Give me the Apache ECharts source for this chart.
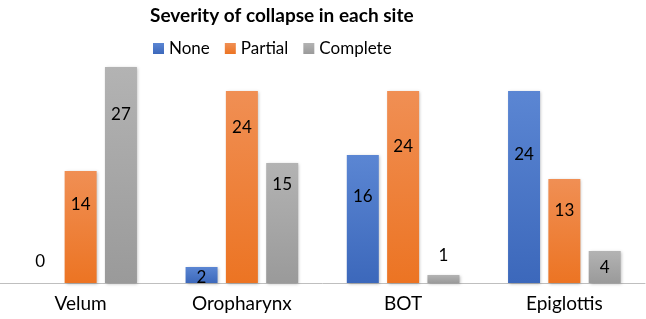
<!DOCTYPE html>
<html><head><meta charset="utf-8">
<script src="https://cdn.jsdelivr.net/npm/echarts@6/dist/echarts.min.js"></script>
<style>html,body{margin:0;padding:0;background:#fff}#c{width:646px;height:319px}</style>
</head><body><div id="c"></div>
<script>
const categories = ['Velum', 'Oropharynx', 'BOT', 'Epiglottis'];
const noneVals = [0, 2, 16, 24];
const partialVals = [14, 24, 24, 13];
const completeVals = [27, 15, 1, 4];
const seriesNames = ['None', 'Partial', 'Complete'];

// label vertical offsets (px) relative to bar centre, as placed in the reference
const noneLabelDy = [-21, 3, -22, -32];
const partialLabelDy = [-22, -59, -40, -20];
const completeLabelDy = [-60, -38, -23, 1];

const FONT = 'Lato, "Open Sans", sans-serif';
function grad(top, bottom) {
  return new echarts.graphic.LinearGradient(0, 0, 0, 1, [
    {offset: 0, color: top}, {offset: 1, color: bottom}
  ]);
}
function mk(name, vals, dys, top, bottom) {
  return {
    name: name, type: 'bar', barWidth: 32, barGap: '26%',
    itemStyle: {color: grad(top, bottom), shadowColor: 'rgba(0,0,0,0.25)', shadowBlur: 3, shadowOffsetX: 1, shadowOffsetY: 1},
    data: vals.map((v, i) => ({
      value: v,
      label: {position: 'inside', offset: [0, dys[i]]}
    })),
    label: {show: true, color: '#000', fontFamily: FONT, fontSize: 17}
  };
}
const chart = echarts.init(document.getElementById('c'));
chart.setOption({
  animation: false,
  title: {text: 'Severity of collapse in each site', left: 145, top: 1,
    textStyle: {fontFamily: FONT, fontWeight: 'bold', fontSize: 19, color: '#000'}},
  legend: {top: 35, left: 148, itemWidth: 11, itemHeight: 11, itemGap: 15,
    icon: 'rect',
    textStyle: {fontFamily: FONT, fontSize: 17, color: '#000'},
    data: seriesNames},
  color: ['#4472C4', '#ED7D31', '#A5A5A5'],
  grid: {left: 0, right: 1, top: 67, bottom: 36},
  xAxis: {type: 'category', data: categories,
    axisLine: {lineStyle: {color: '#bfbfbf'}}, axisTick: {show: false},
    axisLabel: {fontFamily: FONT, fontSize: 19, color: '#000', margin: 11}},
  yAxis: {type: 'value', min: 0, max: 27, show: false, splitLine: {show: false}},
  series: [
    mk('None', noneVals, noneLabelDy, '#5b86d3', '#3c68bb'),
    mk('Partial', partialVals, partialLabelDy, '#f08f54', '#ec7423'),
    mk('Complete', completeVals, completeLabelDy, '#b3b3b3', '#9a9a9a')
  ]
});
</script></body></html>
